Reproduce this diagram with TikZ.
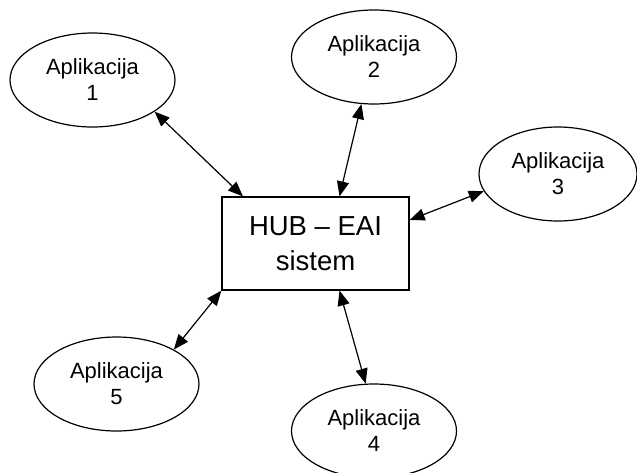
\documentclass[tikz,border=0pt]{standalone}
\usepackage{fontspec}
\setmainfont{Liberation Sans}
\usetikzlibrary{shapes.geometric,arrows.meta}
\begin{document}
\begin{tikzpicture}[x=1pt,y=-1pt,
  app/.style={draw,line width=1.2pt,ellipse,inner sep=0pt,minimum width=165pt,minimum height=94pt,align=center,font=\fontsize{22}{26}\selectfont},
  hubbox/.style={draw,line width=1.2pt,rectangle,inner sep=0pt,minimum width=187pt,minimum height=93pt,align=center,font=\fontsize{27.5}{35}\selectfont},
  link/.style={line width=1.2pt,{Triangle[length=15pt,width=12pt]}-{Triangle[length=15pt,width=12pt]}}]
\useasboundingbox (0,0) rectangle (637,472);
\node[hubbox] (hub) at (315.5,243.5) {HUB -- EAI\\sistem};
\node[app] (a1) at (92.5,80) {Aplikacija\\1};
\node[app] (a2) at (374,57) {Aplikacija\\2};
\node[app,minimum width=158pt] (a3) at (558,174) {Aplikacija\\3};
\node[app] (a4) at (374,431) {Aplikacija\\4};
\node[app] (a5) at (116.5,384) {Aplikacija\\5};
\draw[link] (a1.-27) -- (hub.147);
\draw[link] (a2.-105.8) -- (hub.63.2);
\draw[link] (a3.-167.6) -- (hub.14);
\draw[link] (a4.100.8) -- (hub.-63.4);
\draw[link] (a5.31.8) -- (hub.south west);
\end{tikzpicture}
\end{document}
